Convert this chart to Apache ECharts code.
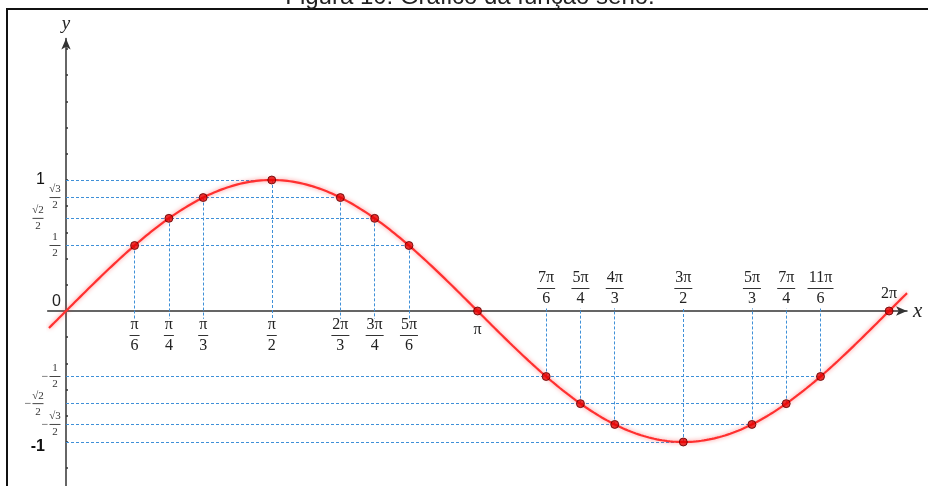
<!DOCTYPE html>
<html>
<head>
<meta charset="utf-8">
<script src="https://cdn.jsdelivr.net/npm/echarts@6/dist/echarts.min.js"></script>
<style>
  html, body { margin: 0; padding: 0; background: #fff; }
  #chart { width: 928px; height: 486px; }
</style>
</head>
<body>
<div id="chart"></div>
<script>
// Marked angles, written as fractions of π (numerator / denominator)
const angleNum = [1, 1, 1, 1, 2, 3, 5, 1, 7, 5, 4, 3, 5, 7, 11, 2];
const angleDen = [6, 4, 3, 2, 3, 4, 6, 1, 6, 4, 3, 2, 3, 4, 6, 1];

// Exact sine values at the marked angles
const r2 = Math.SQRT2 / 2;
const r3 = Math.sqrt(3) / 2;
const sineValues = [0.5, r2, r3, 1, r3, r2, 0.5, 0, -0.5, -r2, -r3, -1, -r3, -r2, -0.5, 0];

// Angle labels: first half sits under the x axis, second half above it
const xLabelsBelow = ['π/6', 'π/4', 'π/3', 'π/2', '2π/3', '3π/4', '5π/6', 'π'];
const xLabelsAbove = ['7π/6', '5π/4', '4π/3', '3π/2', '5π/3', '7π/4', '11π/6', '2π'];

// y labels, split in three columns so the fractions do not collide
const yMainValues = [1, -1];
const yLabelsMain = ['1', '-1'];
const yNearValues = [r3, 0.5, 0, -0.5, -r3];
const yLabelsNear = ['√3/2', '1/2', '0', '-1/2', '-√3/2'];
const yFarValues = [r2, -r2];
const yLabelsFar = ['√2/2', '-√2/2'];

// Small tick marks along the y axis
const yTickValues = [-1.2, -1.0, -0.8, -0.6, -0.4, -0.2, 0.2, 0.4, 0.6, 0.8, 1.0, 1.2, 1.4, 1.6, 1.8, 2.0];

// Plotted domain of the sine curve (radians)
const curveStart = -0.13;
const curveEnd = 6.42;
const curveStep = 0.01;

const angles = angleNum.map((n, i) => n * Math.PI / angleDen[i]);
const belowValues = angles.slice(0, xLabelsBelow.length);
const aboveValues = angles.slice(xLabelsBelow.length);

const curve = [];
for (let t = curveStart; t <= curveEnd + 1e-9; t += curveStep) {
  curve.push([t, Math.sin(t)]);
}

const points = angles.map((a, i) => [a, sineValues[i]]);

// Dashed guides: vertical ones drop from each point to the x axis,
// horizontal ones run from the y axis to the farthest point at that height
const guides = [];
angles.forEach((a, i) => {
  const v = sineValues[i];
  if (v === 0) return;
  guides.push({ coords: [[a, v], [a, v > 0 ? -0.06 : 0.02]] });
});
const farthest = new Map();
angles.forEach((a, i) => {
  const v = sineValues[i];
  if (v === 0) return;
  if (!farthest.has(v) || farthest.get(v) < a) farthest.set(v, a);
});
farthest.forEach((a, v) => guides.push({ coords: [[0, v], [a, v]] }));

const serif = '"Liberation Serif", "DejaVu Serif", serif';
const sans = '"Liberation Sans", Arial, sans-serif';
const ink = '#222';

function lookup(values, labels, value) {
  for (let i = 0; i < values.length; i++) {
    if (Math.abs(values[i] - value) < 1e-6) return labels[i];
  }
  return '';
}

function xFraction(label) {
  const parts = label.split('/');
  const cls = ['a', 'b', 'c'][parts[0].length - 1];
  if (parts.length === 1) return '{one|' + parts[0] + '}';
  return '{n' + cls + '|' + parts[0] + '}\n{bar' + cls + '|}\n{n' + cls + '|' + parts[1] + '}';
}

const numStyle = (w) => ({ fontFamily: serif, fontSize: 16, lineHeight: 17, color: ink, width: w, align: 'center' });
const barStyle = (w) => ({ width: w, height: 1, lineHeight: 4, backgroundColor: '#333', align: 'center' });
const xRich = {
  one: { fontFamily: serif, fontSize: 16, lineHeight: 27, color: ink, align: 'center' },
  na: numStyle(12), nb: numStyle(20), nc: numStyle(28),
  bara: barStyle(10), barb: barStyle(18), barc: barStyle(26)
};

function yFraction(label) {
  if (label === '0') return '{zero|0}';
  const neg = label[0] === '-';
  const [n, d] = (neg ? label.slice(1) : label).split('/');
  if (neg) return '{sp|}{yn|' + n + '}\n{minus|−}{ybar|}\n{sp|}{yn|' + d + '}';
  return '{yn|' + n + '}\n{ybar|}\n{yn|' + d + '}';
}

const yRich = {
  yn: { fontFamily: serif, fontSize: 11, lineHeight: 13, color: '#333', width: 12, align: 'center' },
  ybar: { width: 11, height: 1, lineHeight: 3, backgroundColor: '#444', align: 'center' },
  minus: { fontFamily: serif, fontSize: 12, lineHeight: 3, color: '#333', width: 9, align: 'center' },
  sp: { width: 9, align: 'center' },
  zero: { fontFamily: sans, fontSize: 16, color: ink, padding: [0, 0, 18, 0] },
  big: { fontFamily: sans, fontSize: 16, color: '#111' },
  bigLow: { fontFamily: sans, fontSize: 16, color: '#111', fontWeight: 'bold', padding: [10, 0, 0, 0] }
};

// Shared value ranges; the plot uses 131 px per unit on both axes
const xRange = { min: -0.14, max: 6.42 };
const yRange = { min: -1.34, max: 2.08 };

// Plot area, plus two helper grids whose edges sit on the zero lines
const plotBox = { left: 47.66, top: 38.52, width: 859.36, height: 448.02 };
const xAxisBox = { left: 47.66, top: 38.52, width: 859.36, height: 272.48 };
const yAxisBox = { left: 66, top: 38.52, width: 841, height: 448.02 };

const hiddenAxis = (gridIndex) => ({
  type: 'value', gridIndex, min: 0, max: 1, show: false,
  axisLine: { onZero: false }, splitLine: { show: false }
});

const chart = echarts.init(document.getElementById('chart'), null, { renderer: 'canvas' });

chart.setOption({
  animation: false,
  backgroundColor: '#fff',
  grid: [
    { ...plotBox, containLabel: false, outerBoundsMode: 'none' },
    { ...xAxisBox, containLabel: false, outerBoundsMode: 'none' },
    { ...yAxisBox, containLabel: false, outerBoundsMode: 'none' }
  ],
  graphic: [
    {
      type: 'rect', z: 100,
      shape: { x: 7, y: 9, width: 1000, height: 600 },
      style: { fill: 'none', stroke: '#111', lineWidth: 2 }
    },
    {
      type: 'text', z: 100,
      x: 470, y: -3,
      style: {
        text: 'Figura 10: Gráfico da função seno.',
        font: '24px ' + sans, fill: '#222',
        align: 'center', verticalAlign: 'middle'
      }
    }
  ],
  xAxis: [
    // plot scale
    { type: 'value', gridIndex: 0, ...xRange, show: false, splitLine: { show: false }, axisLine: { onZero: false } },
    // drawn x axis with the angles below it
    {
      type: 'value', gridIndex: 1, ...xRange, position: 'bottom',
      splitLine: { show: false }, axisTick: { show: false },
      name: 'x', nameLocation: 'end', nameGap: 6,
      nameTextStyle: { fontFamily: serif, fontStyle: 'italic', fontSize: 21, color: ink, verticalAlign: 'middle' },
      axisLine: {
        show: true, onZero: false,
        symbol: ['none', 'arrow'], symbolSize: [7, 11],
        lineStyle: { color: '#333', width: 1.5 }
      },
      axisLabel: {
        customValues: belowValues, margin: 5.5, rich: xRich,
        formatter: (v) => xFraction(lookup(belowValues, xLabelsBelow, v))
      }
    },
    // angles written above the x axis
    {
      type: 'value', gridIndex: 1, ...xRange, position: 'bottom',
      splitLine: { show: false }, axisTick: { show: false },
      axisLine: { show: false, onZero: false },
      axisLabel: {
        inside: true, customValues: aboveValues, margin: 3.5, rich: xRich,
        formatter: (v) => xFraction(lookup(aboveValues, xLabelsAbove, v))
      }
    },
    hiddenAxis(2)
  ],
  yAxis: [
    // plot scale
    { type: 'value', gridIndex: 0, ...yRange, show: false, splitLine: { show: false }, axisLine: { onZero: false } },
    hiddenAxis(1),
    // drawn y axis
    {
      type: 'value', gridIndex: 2, ...yRange, position: 'left',
      splitLine: { show: false },
      name: 'y', nameLocation: 'end', nameGap: 5,
      nameTextStyle: { fontFamily: serif, fontStyle: 'italic', fontSize: 19, color: ink },
      axisLine: {
        show: true, onZero: false,
        symbol: ['none', 'arrow'], symbolSize: [7, 11],
        lineStyle: { color: '#333', width: 1.5 }
      },
      axisTick: {
        show: true, inside: true, length: 2, customValues: yTickValues,
        lineStyle: { color: '#333', width: 1.5 }
      },
      axisLabel: {
        customValues: yMainValues, margin: 21, rich: yRich,
        formatter: (v) => {
          const t = lookup(yMainValues, yLabelsMain, v);
          return t === '-1' ? '{bigLow|' + t + '}' : '{big|' + t + '}';
        }
      }
    },
    {
      type: 'value', gridIndex: 2, ...yRange, position: 'left',
      splitLine: { show: false }, axisTick: { show: false },
      axisLine: { show: false, onZero: false },
      axisLabel: {
        customValues: yNearValues, margin: 5, rich: yRich,
        formatter: (v) => yFraction(lookup(yNearValues, yLabelsNear, v))
      }
    },
    {
      type: 'value', gridIndex: 2, ...yRange, position: 'left',
      splitLine: { show: false }, axisTick: { show: false },
      axisLine: { show: false, onZero: false },
      axisLabel: {
        customValues: yFarValues, margin: 22, rich: yRich,
        formatter: (v) => yFraction(lookup(yFarValues, yLabelsFar, v))
      }
    }
  ],
  series: [
    {
      type: 'lines', coordinateSystem: 'cartesian2d', xAxisIndex: 0, yAxisIndex: 0,
      z: 1, silent: true,
      lineStyle: { color: '#3f90d8', width: 1, type: [3, 2], opacity: 1 },
      data: guides
    },
    {
      type: 'line', xAxisIndex: 0, yAxisIndex: 0, z: 3,
      data: curve, showSymbol: false, smooth: false,
      lineStyle: { color: '#ff3030', width: 2.2, shadowBlur: 4, shadowColor: 'rgba(255, 40, 40, 0.55)' }
    },
    {
      type: 'scatter', xAxisIndex: 0, yAxisIndex: 0, z: 4,
      data: points, symbol: 'circle', symbolSize: 8,
      itemStyle: { color: '#e60000', borderColor: '#5a0000', borderWidth: 1 }
    }
  ]
});
</script>
</body>
</html>
